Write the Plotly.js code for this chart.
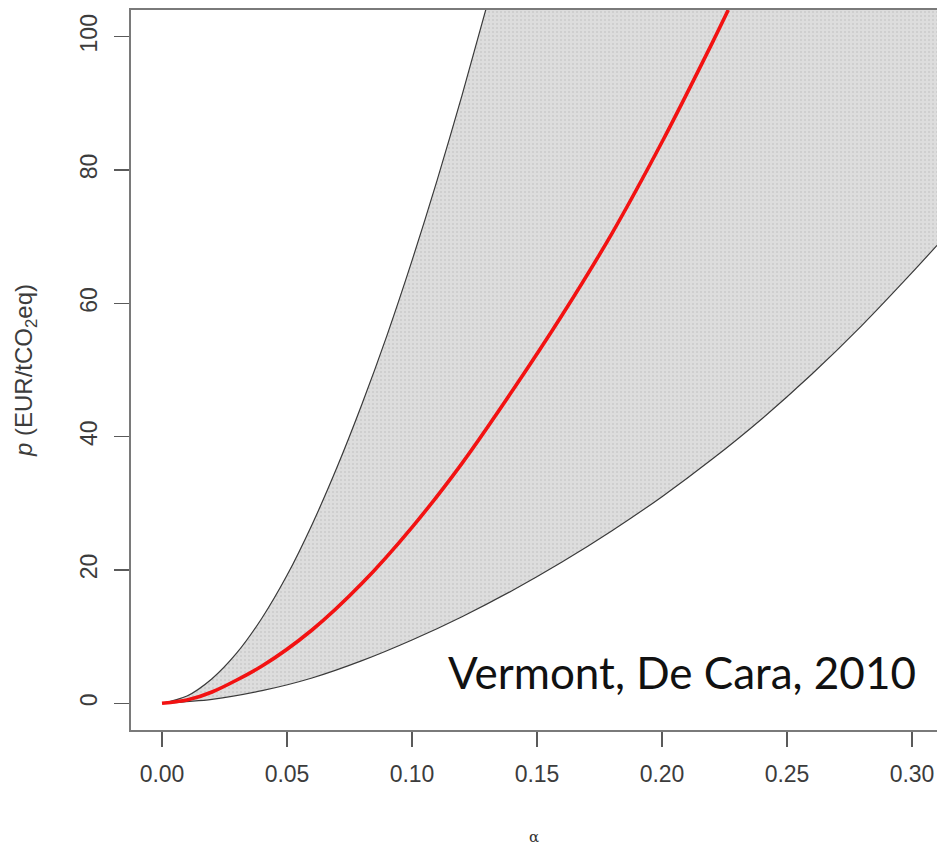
<!DOCTYPE html>
<html>
<head>
<meta charset="utf-8">
<script src="https://cdn.plot.ly/plotly-3.0.1.min.js"></script>
<style>
  html, body { margin: 0; padding: 0; background: #ffffff; }
  #chart { width: 940px; height: 846px; }
</style>
</head>
<body>
<div id="chart"></div>
<script>
// Carbon price p as a function of the abatement rate alpha:
// lower and upper bounds of the uncertainty band, plus the central estimate.
const lowerAlpha = [0, 0.02, 0.04, 0.06, 0.08, 0.10, 0.12, 0.14, 0.16, 0.18, 0.20, 0.22, 0.24, 0.26, 0.28, 0.30, 0.31];
const lowerPrice = [0, 0.6, 1.9, 3.8, 6.4, 9.5, 13.0, 16.9, 21.2, 25.9, 31.0, 36.6, 42.7, 49.4, 56.7, 64.6, 68.7];

const upperAlpha = [0, 0.01, 0.02, 0.03, 0.04, 0.05, 0.06, 0.07, 0.08, 0.09, 0.10, 0.11, 0.12, 0.13];
const upperPrice = [0, 1.1, 3.7, 7.6, 12.8, 19.2, 26.8, 35.4, 44.9, 55.2, 66.4, 78.4, 91.2, 104.7];

const centralAlpha = [0, 0.01, 0.02, 0.04, 0.06, 0.08, 0.10, 0.12, 0.14, 0.16, 0.18, 0.20, 0.22, 0.2265];
const centralPrice = [0, 0.5, 1.7, 5.6, 11.0, 18.0, 26.4, 36.0, 46.8, 58.2, 70.5, 84.2, 99.0, 104];

const xTicks = [0, 0.05, 0.10, 0.15, 0.20, 0.25, 0.30];
const yTicks = [0, 20, 40, 60, 80, 100];

const xRange = [-0.0124, 0.31];
const yRange = [-4, 104];

const sourceNote = 'Vermont, De Cara, 2010';

// Band polygon: up along the upper bound, across the top of the panel,
// then back down along the lower bound (clipped by the axes).
const bandX = upperAlpha.concat([xRange[1]], lowerAlpha.slice(1).reverse());
const bandY = upperPrice.concat([yRange[1] + 1], lowerPrice.slice(1).reverse());

const band = {
  x: bandX, y: bandY,
  type: 'scatter', mode: 'lines',
  fill: 'toself',
  fillcolor: '#dcdcdc',
  fillpattern: { shape: '.', size: 4, solidity: 0.2, fgcolor: '#cbcbcb', bgcolor: '#dddddd' },
  line: { width: 0 },
  hoverinfo: 'skip', showlegend: false
};

const boundStyle = { color: '#3a3a3a', width: 1.2, shape: 'spline', smoothing: 0.8 };

const lower = {
  x: lowerAlpha, y: lowerPrice, type: 'scatter', mode: 'lines',
  line: boundStyle, showlegend: false
};
const upper = {
  x: upperAlpha, y: upperPrice, type: 'scatter', mode: 'lines',
  line: boundStyle, showlegend: false
};
const central = {
  x: centralAlpha, y: centralPrice, type: 'scatter', mode: 'lines',
  line: { color: '#f21212', width: 3.6, shape: 'spline', smoothing: 0.8 },
  showlegend: false
};

const tickFont = { family: 'Liberation Sans, Arial, sans-serif', size: 23, color: '#3c3c3c' };

const layout = {
  width: 940, height: 846,
  margin: { l: 131, r: 3, t: 10, b: 116 },
  paper_bgcolor: '#ffffff', plot_bgcolor: '#ffffff',
  xaxis: {
    range: xRange, tickvals: xTicks, tickformat: '.2f',
    showgrid: false, zeroline: false,
    showline: true, mirror: true, linecolor: '#7a7a7a', linewidth: 1.6,
    ticks: 'outside', ticklen: 15, tickcolor: '#5a5a5a', tickwidth: 1.4,
    tickfont: tickFont, ticklabelstandoff: 8,
    title: { text: 'α', font: { family: 'DejaVu Serif, serif', size: 15, color: '#333' }, standoff: 47 }
  },
  yaxis: {
    range: yRange, tickvals: yTicks,
    showgrid: false, zeroline: false,
    showline: true, mirror: false, linecolor: '#7a7a7a', linewidth: 1.6,
    ticks: 'outside', ticklen: 15, tickcolor: '#5a5a5a', tickwidth: 1.4,
    tickfont: tickFont, tickangle: -90, ticklabelstandoff: 8,
    title: {
      text: '<i>p</i> (EUR/tCO<sub>2</sub>eq)',
      font: { family: 'Liberation Sans, Arial, sans-serif', size: 24, color: '#3c3c3c' },
      standoff: 37
    }
  },
  annotations: [{
    text: sourceNote,
    xref: 'paper', yref: 'paper',
    x: 0.977, y: 0.08, xanchor: 'right', yanchor: 'middle',
    showarrow: false,
    font: { family: 'Lato, Noto Sans, sans-serif', size: 44, color: '#111111' }
  }]
};

Plotly.newPlot('chart', [band, lower, upper, central], layout, { staticPlot: true });
</script>
</body>
</html>
